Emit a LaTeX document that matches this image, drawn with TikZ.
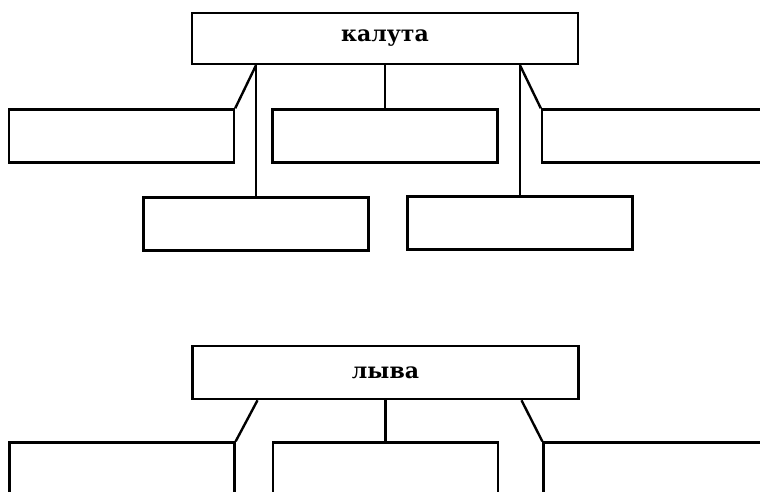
\documentclass[tikz,border=0pt]{standalone}
\usepackage{fontspec}
\setmainfont{DejaVu Serif}
\usepackage{tikz}
\usetikzlibrary{calc,positioning}

\begin{document}
\begin{tikzpicture}[
			x=1pt, y=-1pt,
			node distance=40pt and 36pt,
			box/.style={draw, rectangle, line width=2.6pt, inner sep=0pt, minimum height=53pt, minimum width=225pt},
			headbox/.style={box, minimum width=386pt, minimum height=51pt, font=\fontsize{22}{26}\selectfont\bfseries},
			link/.style={line width=2.4pt}
			]
			\useasboundingbox (0,0) rectangle (760,492);
			\clip (0,0) rectangle (760,492);
			
			% first tree
			\node[headbox] (kaluta) at (385,38.5) {калута};
			\node[box, below=43pt of kaluta] (k2) {};
			\node[box, left=36pt of k2] (k1) {};
			\node[box, right=42pt of k2] (k3) {};
			\node[box] (k4) at (256,224) {};
			\node[box] (k5) at (520,223) {};
			
			\draw[link] (kaluta.south -| k4.north) -- (k4.north);
			\draw[link] (kaluta.south -| k4.north) -- (k1.north east);
			\draw[link] (kaluta) -- (k2);
			\draw[link] (kaluta.south -| k5.north) -- (k5.north);
			\draw[link] (kaluta.south -| k5.north) -- (k3.north west);
			
			% second tree
			\node[headbox, minimum height=53pt] (lyva) at (385.5,372.5) {лыва};
			\node[box, below=41pt of lyva, minimum height=51pt] (l2) {};
			\node[box, left=36pt of l2, minimum height=51pt] (l1) {};
			\node[box, right=43pt of l2, minimum height=51pt] (l3) {};
			
			\coordinate (ltap) at ($(lyva.south)+(-128pt,0)$);
			\coordinate (rtap) at ($(lyva.south)+(136pt,0)$);
			
			\draw[link] (ltap) -- (l1.north east);
			\draw[link] (lyva) -- (l2);
			\draw[link] (rtap) -- (l3.north west);
		\end{tikzpicture}
\end{document}
